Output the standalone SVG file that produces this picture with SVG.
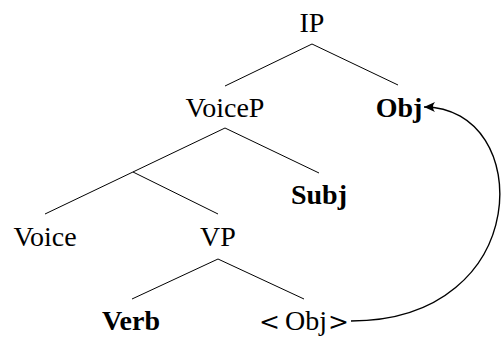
<svg xmlns="http://www.w3.org/2000/svg" width="502" height="337" viewBox="0 0 502 337">
  <style>
    .lbl { font-family: "Liberation Serif", "Times New Roman", serif; font-size: 28px; fill: #000; text-anchor: middle; }
    .b { font-weight: bold; }
    .rel { font-family: "DejaVu Serif", serif; font-size: 25px; }
    .edge { stroke: #000; stroke-width: 1; fill: none; }
    .move { stroke: #000; stroke-width: 1.4; fill: none; }
  </style>
  <defs>
    <marker id="stealth" viewBox="-12 -6 14 12" refX="0" refY="0" markerWidth="14" markerHeight="12" markerUnits="userSpaceOnUse" orient="auto">
      <path d="M0,0 L-11,-5 Q-7,0 -11,5 Z" fill="#000"/>
    </marker>
  </defs>

  <!-- tree branches -->
  <g id="connectors">
    <path class="edge" d="M225,86 L312,44 L398,85"/>
    <path class="edge" d="M45,214 L225,128 L319,173"/>
    <path class="edge" d="M133,172 L218,214"/>
    <path class="edge" d="M132,299 L218,259 L304,299"/>
    <!-- movement arrow from trace to moved object -->
    <path class="move" d="M351,321 C535,321 535,107 424,107" marker-end="url(#stealth)"/>
  </g>

  <g id="ip"><text class="lbl" x="312" y="32">IP</text></g>
  <g id="voicep"><text class="lbl" x="225" y="117">VoiceP</text></g>
  <g id="obj"><text class="lbl b" x="399" y="117">Obj</text></g>
  <g id="subj"><text class="lbl b" x="319" y="204">Subj</text></g>
  <g id="voice"><text class="lbl" x="45" y="246">Voice</text></g>
  <g id="vp"><text class="lbl" x="218" y="246">VP</text></g>
  <g id="verb"><text class="lbl b" x="131" y="330">Verb</text></g>
  <g id="trace">
    <text class="lbl" y="330" style="text-anchor:start"><tspan class="rel" x="259">&lt;</tspan><tspan x="285">Obj</tspan><tspan class="rel" x="328">&gt;</tspan></text>
  </g>
</svg>
